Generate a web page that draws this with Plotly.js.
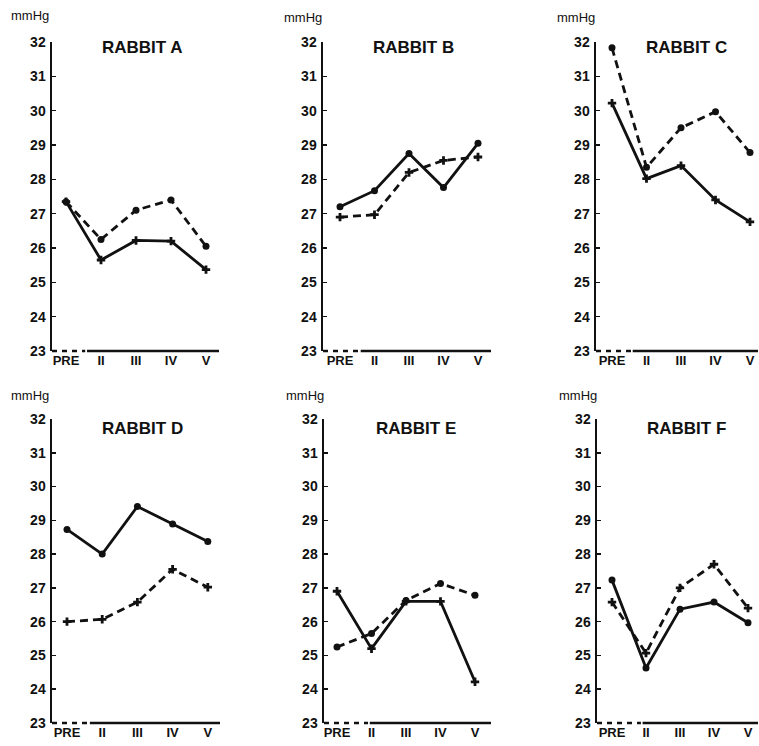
<!DOCTYPE html>
<html><head><meta charset="utf-8">
<script src="https://cdn.plot.ly/plotly-3.0.1.min.js"></script>
<style>body{margin:0;background:#fff}#c{width:759px;height:746px}</style>
</head><body><div id="c"></div>
<script>
const categories = ["PRE","II","III","IV","V"];
const yTicks = [23,24,25,26,27,28,29,30,31,32];
const panelNames = ["RABBIT A","RABBIT B","RABBIT C","RABBIT D","RABBIT E","RABBIT F"];
const circleA = [27.35, 26.25, 27.1, 27.4, 26.05];
const crossA  = [27.35, 25.65, 26.22, 26.2, 25.37];
const circleB = [27.2, 27.67, 28.75, 27.76, 29.05];
const crossB  = [26.9, 26.97, 28.2, 28.55, 28.65];
const circleC = [31.83, 28.35, 29.5, 29.97, 28.78];
const crossC  = [30.22, 28.02, 28.4, 27.4, 26.76];
const circleD = [28.73, 28.0, 29.41, 28.89, 28.37];
const crossD  = [26.0, 26.07, 26.58, 27.55, 27.02];
const circleE = [25.25, 25.65, 26.63, 27.13, 26.78];
const crossE  = [26.9, 25.2, 26.6, 26.6, 24.22];
const circleF = [27.23, 24.63, 26.37, 26.58, 25.97];
const crossF  = [26.58, 25.07, 27.0, 27.7, 26.4];

const circles = [circleA, circleB, circleC, circleD, circleE, circleF];
const crosses = [crossA, crossB, crossC, crossD, crossE, crossF];
// which series is dashed: true => circle series dashed
const circleDashed = [true, false, true, false, true, false];

const W = 759, H = 746;
const geo = [
  {l:52, r:219, p0:66, s:35, top:42, bot:351, split:0.55, tx:142, ty:47, mx:30, my:15},
  {l:323, r:491, p0:340, s:34.5, top:42, bot:351, split:0.55, tx:413, ty:47, mx:303, my:17},
  {l:596, r:758, p0:612, s:34.5, top:42, bot:351, split:0.55, tx:686, ty:47, mx:576, my:17},
  {l:52, r:220, p0:67, s:35.2, top:419, bot:723, split:0.6, tx:142, ty:428, mx:30, my:395},
  {l:324, r:491, p0:337, s:34.5, top:419, bot:723, split:0.9, tx:416, ty:428, mx:305, my:395},
  {l:597, r:758, p0:612, s:34, top:419, bot:723, split:0.85, tx:686, ty:428, mx:578, my:395}
];
const xs = categories.map((c,i)=>i);
const font = "Liberation Sans, Arial, Helvetica, sans-serif";
const data = [], shapes = [], annotations = [];
const layout = {width:W, height:H, margin:{l:0,r:0,t:0,b:0}, showlegend:false,
  paper_bgcolor:"#fff", plot_bgcolor:"rgba(0,0,0,0)", font:{family:font, color:"#111"}};

geo.forEach((g,i)=>{
  const n = i===0 ? "" : String(i+1);
  const xa = "x"+n, ya = "y"+n;
  const xr = [(g.l-g.p0)/g.s, (g.r-g.p0)/g.s];
  layout["xaxis"+n] = {domain:[g.l/W, g.r/W], range:xr, anchor:ya, showgrid:false, zeroline:false,
    showline:false, tickvals:xs, ticktext:categories, ticks:"", ticklabelstandoff:0, fixedrange:true,
    tickfont:{family:font, size:13, weight:"bold", color:"#111"}};
  layout["yaxis"+n] = {domain:[1-g.bot/H, 1-g.top/H], range:[23,32], anchor:xa, showgrid:false,
    zeroline:false, showline:true, linewidth:2.5, linecolor:"#111", tickvals:yTicks,
    ticks:"inside", ticklen:4, tickwidth:1.5, tickcolor:"#111", ticklabelstandoff:1,
    tickfont:{family:font, size:14, weight:"bold", color:"#111"}};
  const dashC = circleDashed[i] ? "8px,5px" : "solid";
  const dashX = circleDashed[i] ? "solid" : "8px,5px";
  data.push({x:xs, y:crosses[i], xaxis:xa, yaxis:ya, mode:"lines+markers", cliponaxis:false,
    line:{color:"#111", width:2.8, dash:dashX}, marker:{symbol:"cross", size:7, color:"#111"}});
  data.push({x:xs, y:circles[i], xaxis:xa, yaxis:ya, mode:"lines+markers", cliponaxis:false,
    line:{color:"#111", width:2.8, dash:dashC}, marker:{symbol:"circle", size:7, color:"#111"}});
  const yb = 1-g.bot/H;
  shapes.push({type:"line", xref:xa, yref:"paper", x0:xr[0], x1:g.split, y0:yb, y1:yb,
    line:{color:"#111", width:2.5, dash:"5px,5px"}});
  shapes.push({type:"line", xref:xa, yref:"paper", x0:g.split+0.05, x1:xr[1], y0:yb, y1:yb,
    line:{color:"#111", width:2.5}});
  annotations.push({text:"<b>"+panelNames[i]+"</b>", xref:"paper", yref:"paper", x:g.tx/W, y:1-g.ty/H,
    showarrow:false, xanchor:"center", yanchor:"middle", font:{family:font, size:17, color:"#111"}});
  annotations.push({text:"mmHg", xref:"paper", yref:"paper", x:g.mx/W, y:1-g.my/H,
    showarrow:false, xanchor:"center", yanchor:"middle", font:{family:font, size:13, color:"#111"}});
});
layout.shapes = shapes;
layout.annotations = annotations;
Plotly.newPlot("c", data, layout, {displayModeBar:false, staticPlot:true});
</script></body></html>
